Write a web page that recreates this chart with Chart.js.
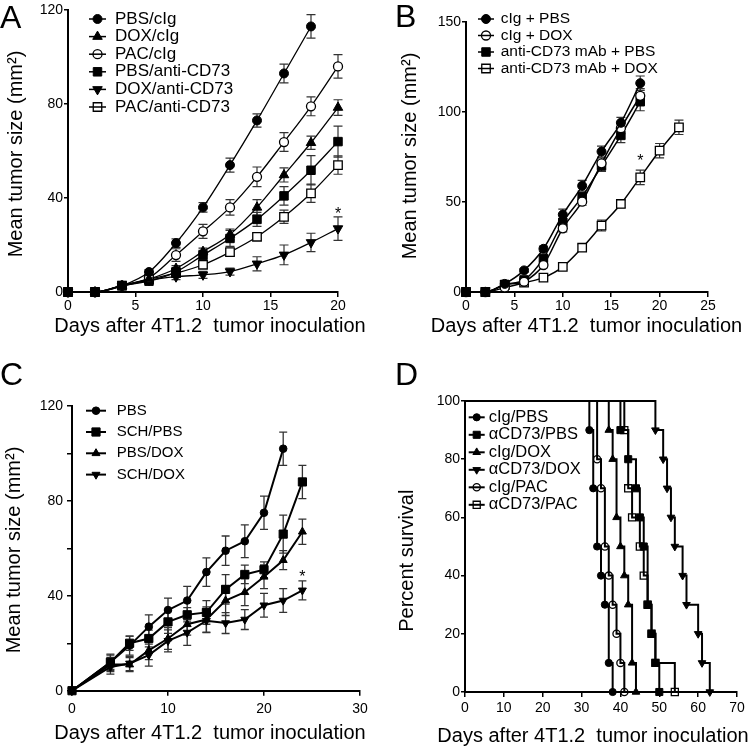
<!DOCTYPE html>
<html>
<head>
<meta charset="utf-8">
<script src="https://cdn.jsdelivr.net/npm/chart.js@4.4.1/dist/chart.umd.min.js"></script>
<style>
    body { margin: 0; background: #fff; }
    #fig { position: relative; width: 756px; height: 749px; font-family: "Liberation Sans", Arial, sans-serif; }
    #fig canvas { position: absolute; }
    .lbl { position: absolute; font-size: 32px; line-height: 32px; color: #000; }
</style>
</head>
<body>
<div id="fig">
    <canvas id="chartA" width="378" height="374" style="left:0;top:0"></canvas>
    <canvas id="chartB" width="378" height="374" style="left:378px;top:0"></canvas>
    <canvas id="chartC" width="378" height="375" style="left:0;top:374px"></canvas>
    <canvas id="chartD" width="378" height="375" style="left:378px;top:374px"></canvas>
    <div class="lbl" style="left:0;top:1px">A</div>
    <div class="lbl" style="left:395px;top:0">B</div>
    <div class="lbl" style="left:0;top:358px">C</div>
    <div class="lbl" style="left:395px;top:358px">D</div>
</div>
<script>
const FONT = '"Liberation Sans", Arial, sans-serif';

// ---- Panel A: tumour growth, chemo + anti-CD73 ----
const daysA = [0, 2, 4, 6, 8, 10, 12, 14, 16, 18, 20];
const pbsCigA = [0, 0, 2.7, 8.5, 20.8, 36, 54, 73, 93, 113];
const pbsCigErrA = [0, 0, 0.5, 1, 1.8, 2, 3, 2.8, 4, 5];
const doxCigA = [0, 0, 2.7, 5.5, 10, 17.2, 24.5, 36, 49.8, 63.5, 78.5];
const doxCigErrA = [0, 0, 0.5, 1, 1.2, 1.5, 2.3, 3.3, 3, 2.8, 3.3];
const pacCigA = [0, 0, 2.7, 6, 15.7, 25.8, 36, 49, 63.8, 79, 96];
const pacCigErrA = [0, 0, 0.5, 1, 2.7, 3, 3.3, 4.2, 4, 4, 5];
const pbsCd73A = [0, 0, 2.7, 4.6, 8.6, 15.7, 22.8, 30.9, 40.9, 51.8, 64];
const pbsCd73ErrA = [0, 0, 0.5, 1, 1.5, 2, 3.4, 3, 3.9, 6.2, 6.6];
const doxCd73A = [0, 0, 2.5, 5, 6.5, 7.3, 8.7, 12, 15.8, 21.1, 27];
const doxCd73ErrA = [0, 0, 0.5, 1, 1.2, 1.5, 1.5, 3, 4.2, 3.9, 5];
const pacCd73A = [0, 0, 2.7, 5.5, 8, 11.6, 17, 23.5, 32, 42, 54];
const pacCd73ErrA = [0, 0, 0.5, 1, 1.2, 1.5, 1.5, 1.5, 2.8, 3.9, 3.9];
const starsA = [{ x: 20, y: 35 }];

// ---- Panel B ----
const daysB = [0, 2, 4, 6, 8, 10, 12, 14, 16, 18, 20, 22];
const cigPbsB = [0, 0, 4.5, 12, 24, 43, 59, 78, 94, 116];
const cigPbsErrB = [0, 0, 1, 1, 1.5, 3, 3, 3, 3, 4];
const cigDoxB = [0, 0, 2.5, 5.7, 15, 35.4, 50.2, 71.5, 91, 109];
const cigDoxErrB = [0, 0, 1, 1, 1.5, 2, 2, 3, 3, 4];
const cd73PbsB = [0, 0, 4.2, 6.7, 18.7, 38.7, 53, 70, 87, 105.7];
const cd73PbsErrB = [0, 0, 1, 1, 1.5, 2, 2, 3, 4, 5];
const cd73DoxB = [0, 0, 4, 5.2, 8, 14, 24.6, 36.9, 48.9, 63.7, 78.5, 91.5];
const cd73DoxErrB = [0, 0, 1, 1, 1, 1.5, 2, 3, 2, 4, 4, 4];
const starsB = [{ x: 18, y: 75 }];

// ---- Panel C ----
const daysC = [0, 4, 6, 8, 10, 12, 14, 16, 18, 20, 22, 24];
const pbsC = [0, 12, 19, 27, 34, 38, 50, 59, 63, 75, 102];
const pbsErrC = [0, 3.4, 4, 5, 5, 6, 6, 6.2, 6.9, 7, 7];
const schPbsC = [0, 12, 20, 22, 29, 32, 33, 42.7, 49, 51, 66, 88];
const schPbsErrC = [0, 3, 3, 3.5, 4.8, 3, 5, 6.2, 3.9, 3.3, 8, 7];
const pbsDoxC = [0, 11, 11, 17, 22, 28, 30, 38, 41.5, 48, 55, 67];
const pbsDoxErrC = [0, 3, 3, 3.9, 4.6, 4.6, 5.3, 6.3, 5.6, 5, 4, 5.3];
const schDoxC = [0, 10, 11.5, 15, 21, 24.5, 29.5, 28.5, 30, 36, 38, 42.3];
const schDoxErrC = [0, 3, 3, 4.6, 4.6, 5.4, 5, 4.4, 4.2, 5, 5, 4];
const starsC = [{ x: 24, y: 49.5 }];

// ---- Panel D: Kaplan-Meier survival ----
const cigPbsDaysD = [0, 32, 33, 34, 35, 36, 37, 38];
const cigPbsSurvD = [100, 90, 70, 50, 40, 30, 10, 0];
const cd73PbsDaysD = [0, 40, 42, 44, 45, 46, 47, 48, 49, 50];
const cd73PbsSurvD = [100, 90, 80, 70, 60, 50, 30, 20, 10, 0];
const cigDoxDaysD = [0, 37, 38, 39, 40, 41, 42, 43, 44];
const cigDoxSurvD = [100, 90, 80, 60, 50, 40, 30, 10, 0];
const cd73DoxDaysD = [0, 49, 51, 52, 53, 54, 56, 57, 60, 61, 63];
const cd73DoxSurvD = [100, 90, 80, 70, 60, 50, 40, 30, 20, 10, 0];
const cigPacDaysD = [0, 34, 35, 36, 37, 38, 39, 40, 41];
const cigPacSurvD = [100, 80, 70, 50, 40, 30, 20, 10, 0];
const cd73PacDaysD = [0, 41, 42, 43, 45, 46, 47, 48, 49, 54];
const cd73PacSurvD = [100, 90, 70, 60, 50, 40, 30, 20, 10, 0];

// marker styles
function mark(style, r, open, rot) {
    return { style: style, r: r, open: !!open, rot: rot || 0 };
}

function series(label, xs, ys, errs, m, lw, extra) {
    const ds = {
        label: label,
        data: ys.map((y, i) => ({ x: xs[i], y: y })),
        errors: errs,
        mark: m,
        borderColor: '#000',
        borderWidth: lw,
        pointStyle: m.style,
        pointRotation: m.rot,
        pointRadius: m.r,
        pointBackgroundColor: m.open ? '#fff' : '#000',
        pointBorderColor: '#000',
        pointBorderWidth: m.open ? 1.3 : 1,
        clip: false,
        fill: false
    };
    return Object.assign(ds, extra || {});
}

// error bars drawn under the markers
const errorBars = {
    id: 'errorBars',
    beforeDatasetsDraw(chart, args, opts) {
        const { ctx, scales: { x, y } } = chart;
        const cap = opts.cap || 4;
        ctx.save();
        ctx.strokeStyle = '#333';
        ctx.lineWidth = opts.width || 1.2;
        chart.data.datasets.forEach(ds => {
            if (!ds.errors) return;
            ds.data.forEach((p, i) => {
                const e = ds.errors[i];
                if (!e) return;
                const px = x.getPixelForValue(p.x);
                const top = y.getPixelForValue(p.y + e);
                const bot = y.getPixelForValue(p.y - e);
                ctx.beginPath();
                ctx.moveTo(px, top); ctx.lineTo(px, bot);
                ctx.moveTo(px - cap, top); ctx.lineTo(px + cap, top);
                ctx.moveTo(px - cap, bot); ctx.lineTo(px + cap, bot);
                ctx.stroke();
            });
        });
        ctx.restore();
    }
};

// legend with a line through each marker, like the original figure
const markLegend = {
    id: 'markLegend',
    afterDraw(chart, args, o) {
        const ctx = chart.ctx;
        ctx.save();
        ctx.font = o.size + 'px ' + FONT;
        ctx.textBaseline = 'middle';
        chart.data.datasets.forEach((ds, i) => {
            const yy = o.top + i * o.gap;
            ctx.strokeStyle = '#000';
            ctx.lineWidth = o.lineWidth;
            ctx.beginPath();
            ctx.moveTo(o.x0, yy);
            ctx.lineTo(o.x1, yy);
            ctx.stroke();
            ctx.fillStyle = ds.mark.open ? 'rgba(0,0,0,0)' : '#000';
            ctx.lineWidth = ds.pointBorderWidth;
            Chart.helpers.drawPoint(ctx, {
                pointStyle: ds.mark.style, rotation: ds.mark.rot,
                radius: ds.mark.r, borderWidth: ds.pointBorderWidth
            }, (o.x0 + o.x1) / 2, yy);
            ctx.fillStyle = '#000';
            ctx.fillText(ds.label, o.textX, yy);
        });
        ctx.restore();
    }
};

// axis titles placed freely (the scale title would be squeezed to the axis length)
const axisTitles = {
    id: 'axisTitles',
    afterDraw(chart, args, o) {
        const ctx = chart.ctx;
        ctx.save();
        ctx.font = '20px ' + FONT;
        ctx.fillStyle = '#000';
        ctx.textAlign = 'center';
        ctx.textBaseline = 'middle';
        ctx.fillText(o.x.text, o.x.cx, o.x.cy);
        ctx.translate(o.y.cx, o.y.cy);
        ctx.rotate(-Math.PI / 2);
        ctx.fillText(o.y.text, 0, 0);
        ctx.restore();
    }
};

const stars = {
    id: 'stars',
    afterDatasetsDraw(chart, args, o) {
        if (!o.points) return;
        const { ctx, scales: { x, y } } = chart;
        ctx.save();
        ctx.font = '16px ' + FONT;
        ctx.textAlign = 'center';
        ctx.textBaseline = 'alphabetic';
        ctx.fillStyle = '#000';
        o.points.forEach(p => {
            ctx.fillText('*', x.getPixelForValue(p.x), y.getPixelForValue(p.y) + 9);
        });
        ctx.restore();
    }
};

function axis(o) {
    return {
        type: 'linear',
        min: o.min,
        max: o.max,
        afterFit: s => { if (s.isHorizontal()) s.height = o.size; else s.width = o.size; },
        border: { color: '#000', width: 2 },
        grid: { drawOnChartArea: false, color: '#000', lineWidth: 1.5, tickLength: o.tick },
        ticks: {
            stepSize: o.step, autoSkip: false, maxRotation: 0, padding: o.pad,
            color: '#000', font: { family: FONT, size: 14 },
            callback: o.cb || (v => v)
        },
        title: { display: false }
    };
}

function makeChart(id, datasets, p) {
    return new Chart(document.getElementById(id), {
        type: 'line',
        data: { datasets: datasets },
        options: {
            responsive: false,
            animation: false,
            layout: { padding: p.pad },
            plugins: {
                legend: { display: false },
                tooltip: { enabled: false },
                markLegend: p.legend,
                axisTitles: p.titles,
                errorBars: p.err || {},
                stars: { points: p.stars }
            },
            scales: { x: p.x, y: p.y }
        },
        plugins: [errorBars, markLegend, axisTitles, stars]
    });
}

const xTitle = 'Days after 4T1.2  tumor inoculation';
const yTitle = 'Mean tumor size (mm\u00B2)';
const smooth = { cubicInterpolationMode: 'monotone' };

// Panel A
makeChart('chartA', [
    series('PBS/cIg', daysA, pbsCigA, pbsCigErrA, mark('circle', 4.5), 1.3, smooth),
    series('DOX/cIg', daysA, doxCigA, doxCigErrA, mark('triangle', 5.5), 1.3, smooth),
    series('PAC/cIg', daysA, pacCigA, pacCigErrA, mark('circle', 4.5, true), 1.3, smooth),
    series('PBS/anti-CD73', daysA, pbsCd73A, pbsCd73ErrA, mark('rect', 6), 1.3, smooth),
    series('DOX/anti-CD73', daysA, doxCd73A, doxCd73ErrA, mark('triangle', 5.5, false, 180), 1.3, smooth),
    series('PAC/anti-CD73', daysA, pacCd73A, pacCd73ErrA, mark('rect', 6, true), 1.3, smooth)
], {
    pad: { left: 0, top: 10, right: 40, bottom: 36 },
    legend: { top: 19, gap: 17.6, x0: 89, x1: 106, textX: 115, size: 17, lineWidth: 1.5 },
    titles: { x: { text: xTitle, cx: 210, cy: 326 }, y: { text: yTitle, cx: 16, cy: 154 } },
    err: { cap: 4.5 },
    stars: starsA,
    x: axis({ min: 0, max: 20, step: 5, size: 46, tick: 5, pad: 1 }),
    y: axis({ min: 0, max: 120, step: 40, size: 68, tick: 4, pad: 1 })
});

// Panel B
makeChart('chartB', [
    series('cIg + PBS', daysB, cigPbsB, cigPbsErrB, mark('circle', 4.5), 1.5, smooth),
    series('cIg + DOX', daysB, cigDoxB, cigDoxErrB, mark('circle', 4.5, true), 1.5, smooth),
    series('anti-CD73 mAb + PBS', daysB, cd73PbsB, cd73PbsErrB, mark('rect', 6), 1.5, smooth),
    series('anti-CD73 mAb + DOX', daysB, cd73DoxB, cd73DoxErrB, mark('rect', 6, true), 1.5, smooth)
], {
    pad: { left: 0, top: 22, right: 48, bottom: 36 },
    legend: { top: 19, gap: 16.5, x0: 100, x1: 116, textX: 122.7, size: 15.5, lineWidth: 1.5 },
    titles: { x: { text: xTitle, cx: 208.5, cy: 326 }, y: { text: yTitle, cx: 32, cy: 156 } },
    err: { cap: 4.5 },
    stars: starsB,
    x: axis({ min: 0, max: 25, step: 5, size: 46, tick: 5, pad: 1 }),
    y: axis({ min: 0, max: 150, step: 50, size: 88, tick: 4, pad: 1 })
});

// Panel C
makeChart('chartC', [
    series('PBS', daysC, pbsC, pbsErrC, mark('circle', 3.8), 2),
    series('SCH/PBS', daysC, schPbsC, schPbsErrC, mark('rect', 5.8), 2),
    series('PBS/DOX', daysC, pbsDoxC, pbsDoxErrC, mark('triangle', 4.6), 2),
    series('SCH/DOX', daysC, schDoxC, schDoxErrC, mark('triangle', 4.6, false, 180), 2)
], {
    pad: { left: 0, top: 32, right: 18, bottom: 4 },
    legend: { top: 36.7, gap: 21.3, x0: 86, x1: 106, textX: 116.7, size: 15, lineWidth: 2 },
    titles: { x: { text: xTitle, cx: 210, cy: 359 }, y: { text: yTitle, cx: 14.5, cy: 176 } },
    err: { cap: 4, width: 1.3 },
    stars: starsC,
    x: axis({ min: 0, max: 30, step: 10, size: 54.3, tick: 5, pad: 5 }),
    y: axis({ min: 0, max: 120, step: 20, size: 72, tick: 5, pad: 4,
              cb: v => (v % 40 === 0 ? v : '') })
});

// Panel D
function kmSeries(label, xs, ys, m) {
    const ds = series(label, xs, ys, null, m, 2, { stepped: true });
    ds.pointRadius = c => (c.dataIndex === 0 ? 0 : m.r);
    ds.pointBackgroundColor = m.open ? 'rgba(0,0,0,0)' : '#000';
    return ds;
}
makeChart('chartD', [
    kmSeries('cIg/PBS', cigPbsDaysD, cigPbsSurvD, mark('circle', 3.6)),
    kmSeries('\u03B1CD73/PBS', cd73PbsDaysD, cd73PbsSurvD, mark('rect', 5)),
    kmSeries('cIg/DOX', cigDoxDaysD, cigDoxSurvD, mark('triangle', 4.4)),
    kmSeries('\u03B1CD73/DOX', cd73DoxDaysD, cd73DoxSurvD, mark('triangle', 4.4, false, 180)),
    kmSeries('cIg/PAC', cigPacDaysD, cigPacSurvD, mark('circle', 3.6, true)),
    kmSeries('\u03B1CD73/PAC', cd73PacDaysD, cd73PacSurvD, mark('rect', 5, true))
], {
    pad: { left: 0, top: 27, right: 19, bottom: 0 },
    legend: { top: 43.3, gap: 17.5, x0: 90.7, x1: 106.7, textX: 110.7, size: 16.5, lineWidth: 2 },
    titles: { x: { text: xTitle, cx: 215, cy: 362.5 }, y: { text: 'Percent survival', cx: 29, cy: 186.7 } },
    stars: [],
    x: axis({ min: 0, max: 70, step: 10, size: 57, tick: 5, pad: 3 }),
    y: axis({ min: 0, max: 100, step: 20, size: 87, tick: 4, pad: 1 })
});
</script>
</body>
</html>
